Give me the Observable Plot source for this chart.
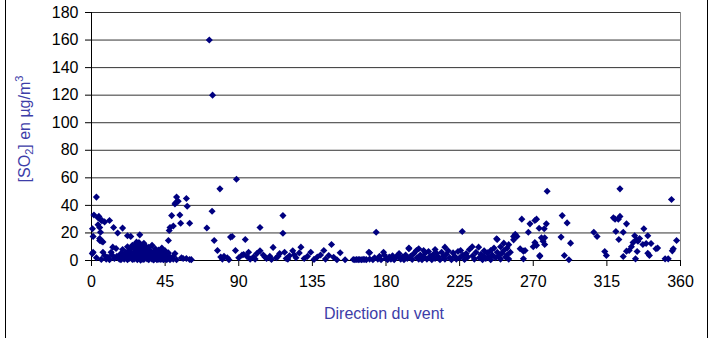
<!DOCTYPE html>
<html>
<head>
<meta charset="utf-8">
<script src="https://cdn.jsdelivr.net/npm/d3@7"></script>
<script src="https://cdn.jsdelivr.net/npm/@observablehq/plot@0.6"></script>
<style>
  html, body { margin: 0; padding: 0; background: #fff; }
  #chart { width: 712px; height: 338px; position: relative; }
</style>
</head>
<body>
<div id="chart"></div>
<script>
// Tick labels
const xTicks = [0, 45, 90, 135, 180, 225, 270, 315, 360];
const yTicks = [0, 20, 40, 60, 80, 100, 120, 140, 160, 180];
const xTitle = "Direction du vent";

// Observations [wind direction (°), SO2 (µg/m³)], grouped by sector
const sectorNorthEast = [
  [0.5,5],[1,17.5],[0.6,23],[1.5,33],[3,46],[4,31],[4.5,32],[6,29],[4,26],[5,24],[5.5,20.5],
  [5,16],[5,14.5],[6,14],[7,13.5],[6.5,29],[8,28],[11,29],[13.5,24],[16,20],[19,23.5],[22,18],
  [24,17.5],[29.5,18.6],[27.5,13.3],[13,9.7],[15,8.7],[12,6],[7,6],[8,3.6],[10,2.4],[9,1],
  [11,0.5],[14,1.5],[3,2],[1,6],[6,0.8],[12.5,4],[15.5,3],
  [17,1],[17,3],[18,5],[18,0.5],[19,2],[19,8],[20,4],[20,1],[21,6],[21,2.5],[22,3],[22,10],[22,0.5],
  [23,7],[23,1.5],[23,4],[24,2],[24,9],[24,5.5],[25,11],[25,3],[25,0.8],[26,6],[26,1],[26,8.5],
  [27,4],[27,12],[27,2],[28,7],[28,0.5],[28,10],[28,3.5],[29,5],[29,1.5],[29,8],[29,13],
  [30,2.5],[30,6.5],[30,11],[30,0.3],[31,4],[31,9],[31,1],[31,7],[32,3],[32,12.5],[32,5.5],[32,0.8],
  [33,8],[33,2],[33,10.5],[34,6],[34,1.2],[34,4.5],[35,3],[35,9.5],[35,0.5],[36,7],[36,2],[36,5],
  [37,1],[37,4],[37,11],[38,6],[38,2.8],[38,0.4],[39,3.5],[39,8.5],[39,1.5],[40,5],[40,2],[40,0.6],
  [41,7.5],[41,3],[41,1],[42,4],[42,0.8],[42,6],[43,2],[43,9],[43,1],[44,5],[44,0.5],[44,3],
  [45,7],[45,2],[45,1],[46,3.5],[46,0.6],[47,5.5],[47,1.8],[48,2.5],[48,0.5],[50,1],[50,3],
  [52,0.5],[55,2],[58,1.5],[61,0.6],
  [47,14.5],[47.5,21.8],[48,24],[49,32.6],[50,25],[51,41],[51.5,42],[52,46],[53,43],[54,33],
  [54.5,27],[58,45],[58.5,39.4],[60,27],[51,5],[56,1.5],[60,0.7]
];
const sectorEast = [
  [70.5,23.6],[72,160],[74,120],[73.7,35.7],[75,14.5],[77,7.3],[78.5,52],[79,2.5],[81,3],[83,2],
  [85,17],[86,17.4],[88,7.3],[88.6,59],[90,2],[92,4],[93,4.4],[94,15.2],[95,3],[97,1],[99,2.5],
  [101,5],[103,24],[103,7],[105,4],[107,1.5],[109,3],[111,9.5],[113,2],[115,5],[117,32.6],
  [117,19.8],[118,6],[120,1],[121,3.5],[123,7],[125,2],[127,5.5],[128,9.7],[130,1.5],[132,3],
  [134,6],[136,0.8],[138,2.5],[140,4],[142,7.3],[143,1],[145,3.6],[146.7,11.6],[148,2.4],
  [150,0.5],[152,5.6],[80,1],[84,0.6],[96,6],[100,1],[106,2.5],[110,0.8],[114,3],[119,1.5],[124,4]
];
const sectorSouth = [
  [155,0.5],[160,0.7],[161,0.5],[162,0.7],[163,0.6],[164,0.7],[165,0.5],[166,0.8],[167,0.7],
  [168,0.6],[169.5,6],[170,5.6],[170,1],[172,0.5],[173,2],[174,20.5],[175,1],[176,3],[177,0.5],
  [178.5,6],[179,4],[180,1.5],[181,0.5],[182,2.5],[183,1],[184,3.5],[185,0.5],[186,2],[187,3.6],
  [188,5],[189,1],[190,2.5],[191,0.6],[192,4],[193,1.5],[194,9],[194,8.5],[195,3],[196,0.8],
  [197,5],[198.6,7.3],[199,2],[200,8.5],[200,1],[201,4],[202,0.5],[203,7.3],[203,2.5],[204,5.5],
  [205,1],[206,6.5],[207,3],[208,0.6],[209,4.5],[210,8],[210,1.5],[211,5],[212,2.5],[213,0.5],
  [214,6],[215,3],[216,9.7],[216,1],[217,4.5],[218,7],[219,2],[220,0.5],[221,5.5],[222,3],
  [223,1],[224,6.5],[225,2],[225.6,7.3],[226.6,21],[227,4],[228,0.8],[229,5],[230,2.5],[231,8],
  [232.7,10],[233,3.5],[234,1],[235,6],[236.6,9.7],[237,2],[238,4.5],[239,0.5],[240,7],[240,3],
  [241,1.5],[242,5.5],[243,2.5],[244,7.3],[244,0.6],[245,4],[246,9],[247.6,15.7],[247,2],
  [248,15.2],[248,6],[249,3.5],[250,10],[250,1],[251,5.5],[252,12.6],[252,7.3],[253,2.5],
  [254,9],[254,4],[255,11.5],[255,1],[256,6]
];
const sectorWest = [
  [258,17.5],[258,15],[259,19],[260,17.5],[262,8.5],[263,30],[264,1.2],[264,6.8],[265,7.3],
  [267,20.5],[268,26.6],[270,10],[271,29],[271,13],[272,30],[272,11],[273.6,23.4],[274,3.6],
  [274,3],[275,16.5],[276,14],[276.7,23],[277,16.5],[277,11.6],[278,26.6],[278.5,50.3],[287,17],
  [287.7,32.6],[289,3.6],[290.7,27.3],[291.8,0.5],[292.8,12.6],[307,20.5],[309,17.5],[313.7,6.5],
  [314.7,3.6],[319,31],[320,30],[320.5,21],[322,30],[322.3,15.2],[323,32],[323,52],[325,20.5],
  [325,2.9],[327,26.6],[327,6.8],[328.6,7.3],[330,10],[331,13],[332,18],[332.5,1.2],[333,15],
  [333.5,6.5],[334,14],[335,16],[337,11.6],[337.6,23],[339,12.3],[340,18],[340,5.3],[341,3.6],
  [342,12.3],[345,8.5],[346,9],[350.6,1.2],[352.5,1.2],[354.5,44.3],[355,7],[355.6,8.5],[357.6,14.5]
];

const data = [...sectorNorthEast, ...sectorEast, ...sectorSouth, ...sectorWest]
  .map(([dir, so2]) => ({dir, so2}));

const font = "'Liberation Sans', Arial, sans-serif";

const chart = Plot.plot({
  width: 712,
  height: 338,
  marginLeft: 91,
  marginRight: 32,
  marginTop: 12,
  marginBottom: 78,
  style: {fontFamily: font, fontSize: "16px", background: "#fff", color: "#000", overflow: "visible"},
  x: {domain: [0, 360]},
  y: {domain: [0, 180]},
  marks: [
    Plot.gridY(yTicks, {stroke: "#000", strokeOpacity: 0.8}),
    Plot.ruleX([360], {stroke: "#888"}),
    Plot.axisX(xTicks, {tickSize: 6, tickPadding: 9, label: null, fontSize: 16}),
    Plot.axisY(yTicks, {tickSize: 6, tickPadding: 7, label: null, fontSize: 16}),
    Plot.ruleX([0], {stroke: "#000"}),
    Plot.ruleY([0], {stroke: "#000"}),
    Plot.dot(data, {x: "dir", y: "so2", symbol: "diamond2", r: 3.2, fill: "#000080", stroke: "none"})
  ]
});

const svg = d3.select(chart);
// x-axis title
svg.append("text")
  .attr("x", 384).attr("y", 319)
  .attr("text-anchor", "middle")
  .attr("fill", "#3d3da8")
  .style("font-family", font).style("font-size", "16px")
  .text(xTitle);
// y-axis title with subscript / superscript
const yt = svg.append("text")
  .attr("transform", "translate(30,129) rotate(-90)")
  .attr("text-anchor", "middle")
  .attr("fill", "#3d3da8")
  .style("font-family", font).style("font-size", "16px");
yt.append("tspan").text("[SO");
yt.append("tspan").attr("font-size", "11px").attr("dy", 3).text("2");
yt.append("tspan").attr("dy", -3).text("] en µg/m");
yt.append("tspan").attr("font-size", "11px").attr("dy", -7).text("3");
// outer chart frame edges
svg.append("line").attr("x1", 5.5).attr("x2", 5.5).attr("y1", 0).attr("y2", 338).attr("stroke", "#000");
svg.append("line").attr("x1", 707.5).attr("x2", 707.5).attr("y1", 0).attr("y2", 338).attr("stroke", "#000");

document.getElementById("chart").appendChild(chart);
</script>
</body>
</html>
